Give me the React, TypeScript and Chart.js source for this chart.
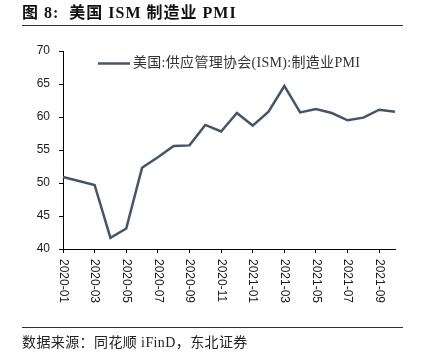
import React, { useEffect, useRef } from "react";
import { Chart, registerables } from "chart.js";

Chart.register(...registerables);

const months = [
  "2020-01", "2020-02", "2020-03", "2020-04", "2020-05", "2020-06",
  "2020-07", "2020-08", "2020-09", "2020-10", "2020-11", "2020-12",
  "2021-01", "2021-02", "2021-03", "2021-04", "2021-05", "2021-06",
  "2021-07", "2021-08", "2021-09", "2021-10",
];
const pmi = [
  50.9, 50.3, 49.7, 41.7, 43.1, 52.3, 53.9, 55.6, 55.7, 58.8, 57.8, 60.6,
  58.7, 60.8, 64.7, 60.7, 61.2, 60.6, 59.5, 59.9, 61.1, 60.8,
];
const seriesName = "美国:供应管理协会(ISM):制造业PMI";
const titleText = "图 8:  美国 ISM 制造业 PMI";
const sourceText = "数据来源：同花顺 iFinD，东北证券";

const LINE_COLOR = "rgb(68,84,106)";
const AXIS_COLOR = "#000000";
const TEXT_COLOR = "#1a1a1a";

const decorPlugin = {
  id: "decor",
  afterDraw(chart: any) {
    const ctx = chart.ctx as any;
    const xScale = chart.scales.x;
    ctx.save();
    // Title
    ctx.fillStyle = "#111";
    ctx.font = 'bold 16px "Liberation Serif", "Noto Sans CJK SC", serif';
    ctx.textAlign = "left";
    ctx.textBaseline = "middle";
    ctx.letterSpacing = "1px";
    ctx.fillText(titleText, 22, 14);
    ctx.letterSpacing = "0px";
    // Title underline
    ctx.strokeStyle = "#333";
    ctx.lineWidth = 1;
    ctx.beginPath();
    ctx.moveTo(22, 25.5);
    ctx.lineTo(403, 25.5);
    ctx.stroke();
    // Legend
    ctx.strokeStyle = LINE_COLOR;
    ctx.lineWidth = 2.5;
    ctx.beginPath();
    ctx.moveTo(98, 63.5);
    ctx.lineTo(130, 63.5);
    ctx.stroke();
    ctx.fillStyle = "#333";
    ctx.font = '14px "Liberation Serif", "Noto Sans CJK SC", serif';
    ctx.letterSpacing = "0.3px";
    ctx.fillText(seriesName, 133, 63.5);
    ctx.letterSpacing = "0px";
    // X labels rotated clockwise
    ctx.fillStyle = TEXT_COLOR;
    ctx.font = '12px "Liberation Sans", Arial, sans-serif';
    xScale.ticks.forEach((t: any, i: number) => {
      if (i % 2 !== 0) return;
      const x = xScale.getPixelForTick(i);
      ctx.save();
      ctx.translate(x, 259);
      ctx.rotate(Math.PI / 2);
      ctx.textAlign = "left";
      ctx.textBaseline = "middle";
      ctx.fillText(months[i], 0, 0);
      ctx.restore();
    });
    // Footer line
    ctx.strokeStyle = "#333";
    ctx.lineWidth = 1;
    ctx.beginPath();
    ctx.moveTo(22, 327.5);
    ctx.lineTo(403, 327.5);
    ctx.stroke();
    // Footer text
    ctx.fillStyle = "#222";
    ctx.font = '14px "Liberation Serif", "Noto Sans CJK SC", serif';
    ctx.textAlign = "left";
    ctx.textBaseline = "middle";
    ctx.letterSpacing = "0.4px";
    ctx.fillText(sourceText, 22, 343);
    ctx.letterSpacing = "0px";
    ctx.restore();
  },
};

export default function App() {
  const ref = useRef<HTMLCanvasElement | null>(null);
  useEffect(() => {
    if (!ref.current) return;
    const chart = new Chart(ref.current, {
      type: "line",
      data: {
        labels: months,
        datasets: [
          {
            label: seriesName,
            data: pmi,
            borderColor: LINE_COLOR,
            backgroundColor: LINE_COLOR,
            borderWidth: 2.5,
            pointRadius: 0,
            tension: 0,
            fill: false,
          },
        ],
      },
      options: {
        responsive: false,
        animation: false,
        devicePixelRatio: 1,
        layout: { padding: { top: 51, right: 37, bottom: 100, left: 0 } },
        plugins: { legend: { display: false }, tooltip: { enabled: false }, title: { display: false } },
        scales: {
          x: {
            type: "category",
            offset: false,
            border: { display: true, color: AXIS_COLOR, width: 1 },
            grid: {
              display: true,
              drawOnChartArea: false,
              drawTicks: true,
              tickLength: 4,
              color: (c: any) => (c.index % 2 === 0 ? AXIS_COLOR : "rgba(0,0,0,0)"),
            },
            ticks: { display: false, autoSkip: false },
            afterFit: (s: any) => {
              s.height = 10;
            },
          },
          y: {
            min: 40,
            max: 70,
            border: { display: true, color: AXIS_COLOR, width: 1 },
            grid: { display: true, drawOnChartArea: false, drawTicks: true, tickLength: 4, color: AXIS_COLOR },
            ticks: {
              stepSize: 5,
              padding: 9,
              color: TEXT_COLOR,
              font: { family: '"Liberation Sans", Arial, sans-serif', size: 12 },
            },
            afterFit: (s: any) => {
              s.width = 63;
            },
          },
        },
      },
      plugins: [decorPlugin],
    });
    return () => chart.destroy();
  }, []);
  return (
    <div style={{ position: "absolute", left: 0, top: 0, width: 432, height: 359, background: "#fff" }}>
      <canvas ref={ref} width={432} height={359} style={{ display: "block", width: 432, height: 359 }} />
    </div>
  );
}
